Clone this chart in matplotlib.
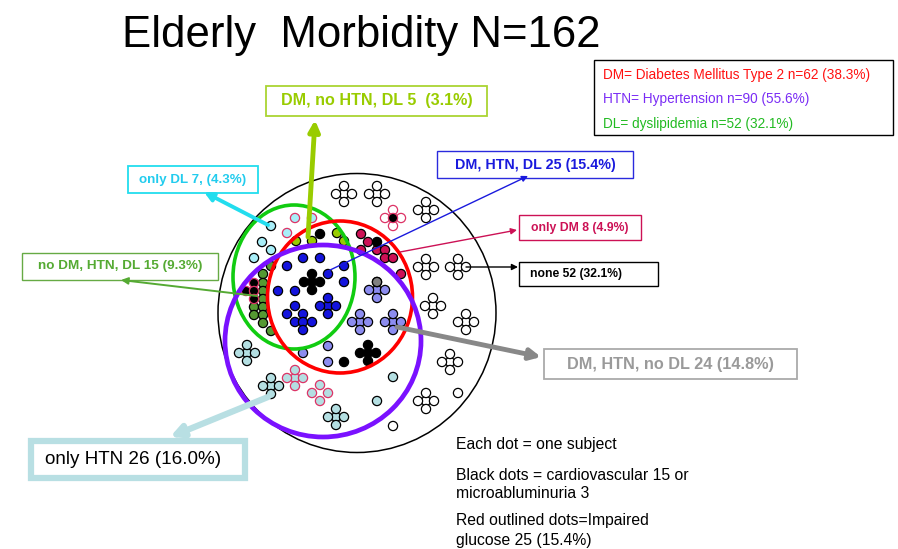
import matplotlib.pyplot as plt
from matplotlib.patches import Circle, Ellipse, Rectangle

W, H = 898, 549
plt.rcParams['font.family'] = ['Liberation Sans', 'DejaVu Sans']

# each dot = one subject; positions (pixel coords)
FLOWER = [(0, 0), (-8, 0), (8, 0), (0, -8), (0, 8)]
RING4 = [(-8, 0), (8, 0), (0, -8), (0, 8)]

none_flowers = [(344, 194), (377, 194), (426, 210), (426, 267), (458, 267),
                (433, 306), (466, 322), (450, 362), (426, 401)]
none_singles = [(458, 393), (393, 426)]
none_glucose_flower = (393, 218)

only_dm = [(361, 234), (368, 242), (361, 250), (377, 250), (385, 250),
           (385, 258), (393, 258), (401, 274)]
only_dm_black = [(377, 242)]

dm_dl = [(296, 241), (312, 241), (337, 233), (344, 241)]
dm_dl_black = [(320, 234)]

only_dl = [(271, 226), (262, 242), (271, 250), (254, 258)]
only_dl_glucose = [(295, 218), (312, 218), (287, 233)]

htn_dl = [(271, 266), (263, 274), (263, 283), (263, 291), (263, 299), (254, 307),
          (263, 307), (254, 315), (263, 315), (263, 323), (271, 331)]
htn_dl_black = [(254, 283), (246, 291), (254, 291), (254, 299)]

all3_singles = [(287, 266), (303, 258), (320, 258), (328, 274), (344, 266),
                (344, 282), (295, 291), (278, 291)]
all3_flowers = [(328, 306)]
all3_cluster = [(295, 306), (287, 314), (303, 314), (295, 322), (303, 322),
                (312, 322), (303, 330)]
all3_black_flowers = [(312, 282)]

dm_htn_flowers = [(377, 290), (360, 322), (393, 322)]
dm_htn_grey = [(377, 282)]
dm_htn_singles = [(303, 353), (328, 346), (328, 362)]
dm_htn_black_flowers = [(368, 353)]
dm_htn_black = [(344, 362)]

only_htn_flowers = [(247, 353), (271, 386), (336, 417)]
only_htn_glucose_flowers = [(295, 378)]
only_htn_glucose_ring = [(320, 393)]
only_htn_singles = [(393, 377), (377, 401)]

legend_lines = ["DM= Diabetes Mellitus Type 2 n=62 (38.3%)",
                "HTN= Hypertension n=90 (55.6%)",
                "DL= dyslipidemia n=52 (32.1%)"]
legend_colors = ['#ff1111', '#7a2cf5', '#22bb22']

notes = ["Each dot = one subject",
         "Black dots = cardiovascular 15 or",
         "microabluminuria 3",
         "Red outlined dots=Impaired",
         "glucose 25 (15.4%)"]
note_y = [445, 475, 494, 521, 541]

fig = plt.figure(figsize=(8.98, 5.49), dpi=100)
ax = fig.add_axes([0, 0, 1, 1])
ax.set_xlim(0, W)
ax.set_ylim(H, 0)
ax.axis('off')


def dots(points, fill, edge='black', pattern=((0, 0),)):
    for cx, cy in points:
        for dx, dy in pattern:
            ax.add_patch(Circle((cx + dx, cy + dy), 4.6, facecolor=fill,
                                edgecolor=edge, lw=0.9, zorder=3))


PINK = '#dd3366'
dots(none_flowers, 'white', pattern=FLOWER)
dots(none_singles, 'white')
dots([none_glucose_flower], 'white', PINK, RING4)
dots([none_glucose_flower], 'black', PINK)
dots(only_dm, '#cc1155')
dots(only_dm_black, 'black')
dots(dm_dl, '#99cc00')
dots(dm_dl_black, 'black')
dots(only_dl, '#a8eef8')
dots(only_dl_glucose, '#a8eef8', PINK)
dots(htn_dl, '#559933')
dots(htn_dl_black, 'black', PINK)
dots(all3_singles, '#1414dd')
dots(all3_flowers, '#1414dd', pattern=FLOWER)
dots(all3_cluster, '#1414dd')
dots(all3_black_flowers, 'black', pattern=FLOWER)
dots(dm_htn_flowers, '#8c8cf0', pattern=FLOWER)
dots(dm_htn_grey, '#808080')
dots(dm_htn_singles, '#8c8cf0')
dots(dm_htn_black_flowers, 'black', pattern=FLOWER)
dots(dm_htn_black, 'black')
dots(only_htn_flowers, '#b4dfe2', pattern=FLOWER)
dots(only_htn_glucose_flowers, '#b4dfe2', PINK, FLOWER)
dots(only_htn_glucose_ring, '#b4dfe2', PINK, RING4)
dots(only_htn_singles, '#b4dfe2')

# population circle and the three condition sets
ax.add_patch(Ellipse((357, 313), 278, 279, fill=False, ec='black', lw=1.1, zorder=2))
ax.add_patch(Ellipse((294, 277), 122, 144, fill=False, ec='#11cc11', lw=2.6, zorder=4))
ax.add_patch(Ellipse((340, 297), 145, 152, fill=False, ec='#ff0000', lw=2.6, zorder=4))
ax.add_patch(Ellipse((323, 341), 196, 192, fill=False, ec='#7a11ff', lw=3.4, zorder=4))

ax.text(361, 35, "Elderly  Morbidity N=162", fontsize=31.5, ha='center', va='center')


def box(x0, y0, x1, y1, label, color, edge, lw=1.0, size=8.5, weight='bold', tx=None):
    ax.add_patch(Rectangle((x0, y0), x1 - x0, y1 - y0, fill=False, ec=edge, lw=lw, zorder=5))
    if tx is None:
        ax.text((x0 + x1) / 2, (y0 + y1) / 2, label, color=color, fontsize=size,
                fontweight=weight, ha='center', va='center', zorder=6)
    else:
        ax.text(tx, (y0 + y1) / 2, label, color=color, fontsize=size,
                fontweight=weight, ha='left', va='center', zorder=6)


def arrow(x0, y0, x1, y1, color, lw, scale=12):
    ax.annotate('', xy=(x1, y1), xytext=(x0, y0), zorder=7,
                arrowprops=dict(arrowstyle='-|>', color=color, lw=lw,
                                mutation_scale=scale, shrinkA=0, shrinkB=0))


box(266, 86, 487, 116, "DM, no HTN, DL 5  (3.1%)", '#99cc00', '#aad433', 1.3, 11.6)
arrow(308, 237, 315, 120, '#99cc00', 3.5, 16)

box(128, 166, 258, 193, "only DL 7, (4.3%)", '#22ccee', '#22ddee', 1.3, 9.6)
arrow(268, 225, 204, 192, '#22ddee', 2.8, 13)

box(22, 253, 218, 280, "no DM, HTN, DL 15 (9.3%)", '#55aa33', '#66aa44', 1.0, 9.7)
arrow(257, 296, 121, 280, '#55aa33', 1.4, 10)

box(437, 151, 633, 178, "DM, HTN, DL 25 (15.4%)", '#1a1add', '#2a2add', 1.0, 10.3)
arrow(328, 271, 528, 176, '#1a1add', 1.0, 9)

box(519, 215, 641, 240, "only DM 8 (4.9%)", '#cc1155', '#cc1155', 1.0, 8.8)
arrow(400, 252, 517, 230, '#cc1155', 1.0, 9)

box(519, 262, 658, 286, "none 52 (32.1%)", 'black', 'black', 1.0, 8.7, tx=530)
arrow(466, 267, 518, 267, 'black', 1.0, 9)

box(544, 349, 797, 379, "DM, HTN, no DL 24 (14.8%)", '#9a9a9a', '#aaaaaa', 1.3, 11.7)
arrow(397, 327, 541, 357, '#888888', 3.5, 16)

box(31, 441, 245, 478, "only HTN 26 (16.0%)", 'black', '#b8dfe3', 4.5, 13.6, 'normal', tx=45)
arrow(268, 397, 170, 437, '#b8dfe3', 4.5, 18)

# legend box
ax.add_patch(Rectangle((594, 60), 299, 75, fill=False, ec='black', lw=1.0, zorder=5))
for i, (t, c) in enumerate(zip(legend_lines, legend_colors)):
    ax.text(603, 75 + i * 24.5, t, color=c, fontsize=9.8, va='center')

for t, y in zip(notes, note_y):
    ax.text(456, y, t, fontsize=11.3, va='center')

fig.savefig('out.png', dpi=100)
